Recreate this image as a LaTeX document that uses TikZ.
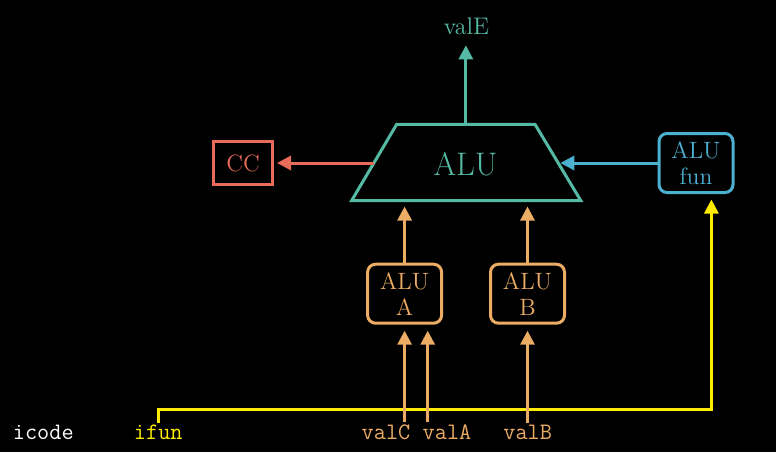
\documentclass[tikz,border=0pt]{standalone}
\usetikzlibrary{arrows.meta,calc}
\definecolor{tealc}{RGB}{84,186,164}
\definecolor{coralc}{RGB}{232,108,88}
\definecolor{orngc}{RGB}{236,172,100}
\definecolor{bluc}{RGB}{76,176,208}
\definecolor{yelc}{RGB}{255,236,0}
\begin{document}
\begin{tikzpicture}[x=0.5pt,y=-0.5pt,
  lw/.style={line width=1.5pt},
  arr/.style={lw,-{Triangle[length=7pt,width=7pt]}},
  box/.style={lw,draw,align=center,minimum width=37pt,minimum height=29.5pt,inner sep=0pt,font=\fontsize{11.8}{13}\selectfont},
  rbox/.style={box,rounded corners=4pt},
  mono/.style={font=\fontsize{11.8}{13}\selectfont\ttfamily,anchor=base,inner sep=1pt}
]
\fill[black] (0,0) rectangle (776,452);
\useasboundingbox (0,0) rectangle (776,452);

% ALU trapezoid
\coordinate (tl) at (396.7,124.3);
\coordinate (tr) at (535,124.3);
\coordinate (br) at (580.7,200.5);
\coordinate (bl) at (351.7,200.5);
\draw[lw,tealc,line join=miter] (tl)--(tr)--(br)--(bl)--cycle;
\node[text=tealc,font=\fontsize{16.3}{19}\selectfont,anchor=base,inner sep=0pt] (alu) at (465.5,175) {ALU};
\coordinate (aluL) at ($(bl)!0.49!(tl)$);
\coordinate (aluR) at ($(br)!0.49!(tr)$);
\coordinate (aluT) at ($(tl)!0.5!(tr)$);

% boxes
\node[box,draw=coralc,text=coralc,minimum width=29.5pt,minimum height=21.5pt] (cc) at (243,163) {CC};
\node[rbox,draw=bluc,text=bluc] (fun) at (696,163) {ALU\\fun};
\node[rbox,draw=orngc,text=orngc] (A) at (404.6,293.7) {ALU\\A};
\node[rbox,draw=orngc,text=orngc] (B) at (527.5,293.7) {ALU\\B};

% valE
\node[text=tealc,font=\fontsize{12}{14}\selectfont,anchor=base] (valE) at (466.5,34) {valE};
\draw[arr,tealc,shorten >=2pt] (aluT) -- (aluT |- valE.south);

% bottom labels
\node[mono,text=white] (icode) at (43.3,439.5) {icode};
\node[mono,text=yelc] (ifun) at (158.3,439.5) {ifun};
\node[mono,text=orngc] (valC) at (386,439.5) {valC};
\node[mono,text=orngc] (valA) at (447,439.5) {valA};
\node[mono,text=orngc] (valB) at (527.7,439.5) {valB};

% connectors
\draw[arr,coralc,shorten >=1.5pt] (cc.east -| aluL) -- (cc.east);
\draw[arr,bluc,shorten >=1pt] (fun.west) -- (fun.west -| aluR);
\draw[arr,orngc,shorten >=3pt] (A.north) -- (A |- bl);
\draw[arr,orngc,shorten >=3pt] (B.north) -- (B |- bl);

\coordinate (ybus) at (0,409);
\coordinate (funin) at ($(fun.south)!0.4!(fun.south east)$);
\draw[arr,yelc,line join=miter,shorten >=2.75pt] (ifun.north) -- (ifun.north |- ybus) -| (funin);

\coordinate (Ain2) at ($(A.south)!0.6!(A.south east)$);
\draw[arr,orngc,shorten >=3pt] (valC.north -| A.south) -- (A.south);
\draw[arr,orngc,shorten >=3pt] (valA.north -| Ain2) -- (Ain2);
\draw[arr,orngc,shorten >=3pt] (valB.north -| B.south) -- (B.south);
\end{tikzpicture}
\end{document}
